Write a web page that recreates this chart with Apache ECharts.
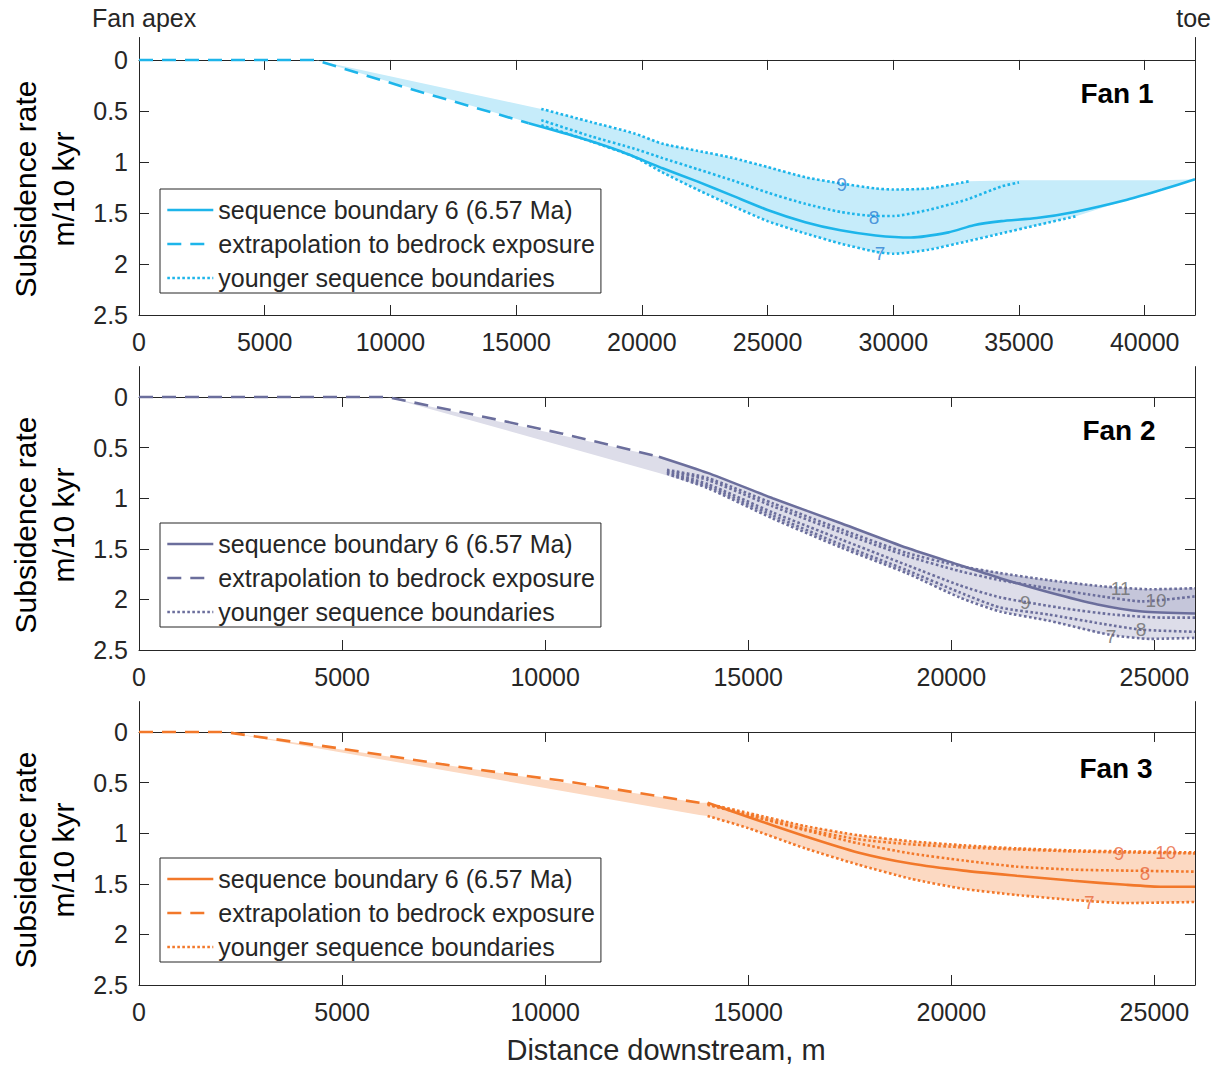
<!DOCTYPE html>
<html><head><meta charset="utf-8">
<script src="https://cdn.jsdelivr.net/npm/echarts@6/dist/echarts.min.js"></script>
<style>html,body{margin:0;padding:0;background:#fff}#c{width:1220px;height:1068px}</style>
</head><body><div id="c"></div>
<script>
// ---------------- DATA ----------------
const yTicks = [0, 0.5, 1, 1.5, 2, 2.5];
const fan1XTicks = [0, 5000, 10000, 15000, 20000, 25000, 30000, 35000, 40000];
const fan23XTicks = [0, 5000, 10000, 15000, 20000, 25000];
const legendText = {
  sb6: 'sequence boundary 6 (6.57 Ma)',
  extrap: 'extrapolation to bedrock exposure',
  young: 'younger sequence boundaries'
};

// Fan 1
const fan1Extrap = [[0,0],[7000,0],[10600,0.27],[15500,0.62]];
const fan1SB6 = [[15500,0.62],[17500,0.76],[19100,0.89],[20800,1.06],[22200,1.19],[23600,1.33],[25000,1.47],[26500,1.59],[27900,1.67],[29300,1.72],[30700,1.74],[32200,1.69],[33200,1.62],[34300,1.58],[35700,1.55],[37200,1.49],[39300,1.37],[40700,1.27],[42000,1.17]];
const fan1SB7 = [[16000,0.64],[18000,0.80],[19700,0.95],[20800,1.10],[22200,1.27],[23600,1.43],[25000,1.58],[26500,1.70],[27900,1.80],[29300,1.88],[30000,1.90],[31400,1.86],[32900,1.78],[34300,1.70],[35700,1.62],[37300,1.53]];
const fan1SB8 = [[16000,0.59],[18000,0.75],[19700,0.87],[20800,0.96],[22200,1.07],[23600,1.18],[25000,1.30],[26500,1.41],[27900,1.49],[29300,1.53],[30000,1.53],[31400,1.47],[32900,1.37],[34300,1.24],[35000,1.20]];
const fan1SB9 = [[16000,0.48],[18000,0.61],[19700,0.72],[20800,0.82],[22200,0.89],[23600,0.96],[25000,1.05],[26500,1.15],[27900,1.21],[29300,1.26],[30000,1.27],[31400,1.26],[33000,1.19]];
const fan1FillX = [7000,16000,18000,19700,20800,22200,23600,25000,26500,27900,29300,30000,31400,33000,35000,37300,39300,40700,42000];
const fan1FillTop = [0,0.48,0.61,0.72,0.82,0.89,0.96,1.05,1.15,1.21,1.26,1.27,1.26,1.19,1.18,1.18,1.18,1.18,1.17];
const fan1FillBottom = [0,0.65,0.80,0.95,1.10,1.27,1.43,1.58,1.70,1.80,1.88,1.90,1.86,1.77,1.66,1.53,1.37,1.27,1.17];
const fan1LabelX = [29470, 29230, 27950];
const fan1LabelY = [1.90, 1.54, 1.22];
const fan1LabelText = ['7', '8', '9'];

// Fan 2
const fan2Extrap = [[0,0],[6100,0],[8300,0.18],[10400,0.36],[12800,0.59]];
const fan2SB6 = [[12800,0.59],[14000,0.75],[15600,1.00],[17300,1.25],[18900,1.49],[20200,1.66],[21200,1.79],[22400,1.93],[23600,2.05],[24700,2.12],[26000,2.14]];
const fan2SB7 = [[13000,0.76],[14000,0.90],[15600,1.20],[17300,1.49],[18900,1.74],[20200,1.98],[21200,2.12],[22400,2.21],[23900,2.35],[24900,2.39],[26000,2.38]];
const fan2SB8 = [[13000,0.75],[14000,0.88],[15600,1.17],[17300,1.46],[18900,1.71],[20200,1.93],[21200,2.08],[22400,2.15],[23700,2.24],[24700,2.30],[26000,2.32]];
const fan2SB9 = [[13000,0.74],[14000,0.86],[15600,1.14],[17300,1.41],[18900,1.66],[20200,1.86],[21200,1.98],[22800,2.09],[24000,2.15],[25200,2.18],[26000,2.18]];
const fan2SB10 = [[13000,0.73],[14000,0.82],[15600,1.08],[17300,1.34],[18900,1.57],[20200,1.72],[21200,1.81],[22400,1.89],[23700,1.97],[24700,2.02],[26000,1.97]];
const fan2SB11 = [[13000,0.72],[14000,0.80],[15600,1.05],[17300,1.31],[18900,1.54],[20200,1.67],[21200,1.74],[22400,1.81],[23700,1.87],[24900,1.90],[26000,1.89]];
const fan2FillX = [6100,12800,14000,15600,17300,18900,20200,21200,22400,23700,24700,26000];
const fan2FillTop = [0,0.59,0.75,1.00,1.25,1.49,1.66,1.74,1.81,1.87,1.90,1.89];
const fan2FillBottom = [0,0.75,0.90,1.20,1.49,1.74,1.98,2.12,2.21,2.34,2.39,2.38];
const fan2BandX = [20200,21200,22400,23700,24700,26000];
const fan2BandTop = [1.66,1.74,1.81,1.87,1.90,1.89];
const fan2BandBottom = [1.66,1.79,1.93,2.05,2.12,2.14];
const fan2LabelX = [23930, 24670, 21820, 25040, 24170];
const fan2LabelY = [2.37, 2.30, 2.03, 2.01, 1.89];
const fan2LabelText = ['7', '8', '9', '10', '11'];

// Fan 3
const fan3Extrap = [[0,0],[2100,0],[4900,0.16],[8300,0.37],[10400,0.48],[13800,0.70]];
const fan3SB6 = [[14000,0.70],[15000,0.84],[16400,1.03],[17700,1.19],[19000,1.30],[20300,1.37],[21600,1.42],[23000,1.47],[24300,1.51],[25200,1.53],[26000,1.53]];
const fan3SB7 = [[14000,0.83],[15000,0.95],[16400,1.15],[17700,1.31],[19000,1.45],[20300,1.55],[21600,1.61],[23000,1.66],[24300,1.69],[26000,1.68]];
const fan3SB8 = [[14000,0.72],[15000,0.82],[16400,0.97],[17700,1.10],[19000,1.20],[20300,1.27],[21600,1.33],[23000,1.36],[24300,1.37],[26000,1.38]];
const fan3SB9 = [[14000,0.71],[15000,0.80],[16400,0.93],[17700,1.02],[19000,1.08],[20300,1.12],[21600,1.15],[23000,1.17],[24300,1.18],[26000,1.19]];
const fan3SB10 = [[14000,0.71],[15000,0.82],[16400,0.96],[17700,1.06],[19000,1.11],[20300,1.14],[21600,1.16],[23000,1.18],[24300,1.19],[26000,1.20]];
const fan3FillX = [2100,13800,14000,15000,16400,17700,19000,20300,21600,23000,24300,26000];
const fan3FillTop = [0,0.70,0.70,0.80,0.93,1.02,1.08,1.12,1.15,1.17,1.18,1.19];
const fan3FillBottom = [0,0.82,0.83,0.95,1.15,1.31,1.45,1.55,1.61,1.66,1.69,1.68];
const fan3LabelX = [23400, 24770, 24130, 25280];
const fan3LabelY = [1.68, 1.40, 1.20, 1.19];
const fan3LabelText = ['7', '8', '9', '10'];

// ---------------- STYLE ----------------
const AX = '#262626';
const FONT = '"Liberation Sans", Arial, Helvetica, sans-serif';

const panels = [
  { title: 'Fan 1', xMax: 42000, xTicks: fan1XTicks, yMin: -0.22, top: 37.5, bottom: 753,
    line: '#1db5ea', fill: '#c6ecfa', band: null, labelColor: '#2c7fd3',
    extrap: fan1Extrap, sb6: fan1SB6, young: [fan1SB7, fan1SB8, fan1SB9],
    fillX: fan1FillX, fillTop: fan1FillTop, fillBottom: fan1FillBottom,
    labelX: fan1LabelX, labelY: fan1LabelY, labelText: fan1LabelText,
    legendTop: 189, titlePos: [1117, 93], yLabelCy: 189 },
  { title: 'Fan 2', xMax: 26000, xTicks: fan23XTicks, yMin: -0.3, top: 366.6, bottom: 418,
    line: '#6b6e9c', fill: '#dddde9', band: '#c5c6da', labelColor: '#6a6a6a',
    extrap: fan2Extrap, sb6: fan2SB6, young: [fan2SB7, fan2SB8, fan2SB9, fan2SB10, fan2SB11],
    fillX: fan2FillX, fillTop: fan2FillTop, fillBottom: fan2FillBottom,
    bandX: fan2BandX, bandTop: fan2BandTop, bandBottom: fan2BandBottom,
    labelX: fan2LabelX, labelY: fan2LabelY, labelText: fan2LabelText,
    legendTop: 523, titlePos: [1119, 430], yLabelCy: 525 },
  { title: 'Fan 3', xMax: 26000, xTicks: fan23XTicks, yMin: -0.3, top: 701.6, bottom: 83,
    line: '#f2782a', fill: '#fcd9c2', band: null, labelColor: '#e8663a',
    extrap: fan3Extrap, sb6: fan3SB6, young: [fan3SB7, fan3SB8, fan3SB9, fan3SB10],
    fillX: fan3FillX, fillTop: fan3FillTop, fillBottom: fan3FillBottom,
    labelX: fan3LabelX, labelY: fan3LabelY, labelText: fan3LabelText,
    legendTop: 858, titlePos: [1116, 768], yLabelCy: 860 }
];

const option = { animation: false, backgroundColor: '#fff', textStyle: { fontFamily: FONT },
  grid: [], xAxis: [], yAxis: [], series: [], legend: [], graphic: { elements: [] } };

function bandSeries(xi, yi, X, T, B, color) {
  return { type: 'custom', xAxisIndex: xi, yAxisIndex: yi, silent: true, z: 1, clip: true,
    data: [[X[0], T[0]]],
    renderItem: (params, api) => {
      const pts = [];
      for (let i = 0; i < X.length; i++) pts.push(api.coord([X[i], T[i]]));
      for (let i = X.length - 1; i >= 0; i--) pts.push(api.coord([X[i], B[i]]));
      return { type: 'polygon', shape: { points: pts }, style: { fill: color, stroke: null } };
    } };
}

panels.forEach((P, p) => {
  const xi = 2 * p, yi = 2 * p;
  option.grid.push({ left: 139, right: 25, top: P.top, bottom: P.bottom, containLabel: false });
  option.xAxis.push({ type: 'value', gridIndex: p, position: 'bottom', min: 0, max: P.xMax,
    axisLine: { onZero: false, lineStyle: { color: AX, width: 1 } },
    axisTick: { inside: true, length: 10, customValues: P.xTicks, lineStyle: { color: AX } },
    axisLabel: { customValues: P.xTicks, fontSize: 25, color: AX, margin: 14, fontFamily: FONT, formatter: v => String(v) },
    splitLine: { show: false } });
  option.xAxis.push({ type: 'value', gridIndex: p, position: 'top', min: 0, max: P.xMax,
    axisLine: { onZero: true, onZeroAxisIndex: yi, lineStyle: { color: AX, width: 1 } },
    axisTick: { inside: true, length: 10, customValues: P.xTicks, lineStyle: { color: AX } },
    axisLabel: { show: false }, splitLine: { show: false } });
  option.yAxis.push({ type: 'value', gridIndex: p, position: 'left', inverse: true, min: P.yMin, max: 2.5,
    axisLine: { show: true, onZero: false, lineStyle: { color: AX, width: 1 } },
    axisTick: { show: true, inside: true, length: 10, customValues: yTicks, lineStyle: { color: AX } },
    axisLabel: { customValues: yTicks, fontSize: 25, color: AX, margin: 11, fontFamily: FONT, formatter: v => String(v) },
    splitLine: { show: false } });
  option.yAxis.push({ type: 'value', gridIndex: p, position: 'right', inverse: true, min: P.yMin, max: 2.5,
    axisLine: { show: true, onZero: false, lineStyle: { color: AX, width: 1 } },
    axisTick: { show: true, inside: true, length: 10, customValues: yTicks, lineStyle: { color: AX } },
    axisLabel: { show: false }, splitLine: { show: false } });

  // shaded envelopes
  option.series.push(bandSeries(xi, yi, P.fillX, P.fillTop, P.fillBottom, P.fill));
  if (P.band) option.series.push(bandSeries(xi, yi, P.bandX, P.bandTop, P.bandBottom, P.band));

  const common = { type: 'line', xAxisIndex: xi, yAxisIndex: yi, symbol: 'none', silent: true,
    itemStyle: { color: P.line } };
  P.young.forEach(arr => {
    option.series.push(Object.assign({}, common, { name: 'young#' + p, smooth: 0.2, z: 3,
      lineStyle: { color: P.line, width: 2.6, type: [2.6, 2.4] }, data: arr }));
  });
  option.series.push(Object.assign({}, common, { name: 'extrap#' + p, z: 4,
    lineStyle: { color: P.line, width: 2.6, type: [14, 9] }, data: P.extrap }));
  option.series.push(Object.assign({}, common, { name: 'sb6#' + p, smooth: 0.2, z: 5,
    lineStyle: { color: P.line, width: 2.6 }, data: P.sb6 }));
  option.series.push({ type: 'scatter', xAxisIndex: xi, yAxisIndex: yi, symbolSize: 0, silent: true, z: 6,
    data: P.labelX.map((x, i) => ({ value: [x, P.labelY[i]], name: P.labelText[i] })),
    label: { show: true, position: 'inside', formatter: '{b}', color: P.labelColor, fontSize: 19, fontFamily: FONT } });

  option.legend.push({ left: 160, top: P.legendTop, orient: 'vertical', selectedMode: false,
    data: ['sb6#' + p, 'extrap#' + p, 'young#' + p],
    formatter: n => legendText[n.split('#')[0]],
    itemWidth: 46, itemHeight: 14, itemGap: 6,
    padding: [7, 6, 1, 6], borderColor: AX, borderWidth: 1, backgroundColor: '#fff',
    textStyle: { fontSize: 25, color: AX, fontFamily: FONT, lineHeight: 28 },
    itemStyle: { opacity: 0 },
    lineStyle: { width: 2.6 } });

  const E = option.graphic.elements;
  E.push({ type: 'text', x: P.titlePos[0], y: P.titlePos[1], z: 10,
    style: { text: P.title, fontSize: 28, fontWeight: 'bold', fontFamily: FONT, fill: '#000', align: 'center', verticalAlign: 'middle' } });
  E.push({ type: 'text', x: 25, y: P.yLabelCy, rotation: Math.PI / 2, z: 10,
    style: { text: 'Subsidence rate', fontSize: 30, fontFamily: FONT, fill: '#000', align: 'center', verticalAlign: 'middle' } });
  E.push({ type: 'text', x: 63, y: P.yLabelCy, rotation: Math.PI / 2, z: 10,
    style: { text: 'm/10 kyr', fontSize: 30, fontFamily: FONT, fill: '#000', align: 'center', verticalAlign: 'middle' } });
});

option.graphic.elements.push(
  { type: 'text', x: 92, y: 18, style: { text: 'Fan apex', fontSize: 25, fontFamily: FONT, fill: AX, align: 'left', verticalAlign: 'middle' } },
  { type: 'text', x: 1211, y: 18, style: { text: 'toe', fontSize: 25, fontFamily: FONT, fill: AX, align: 'right', verticalAlign: 'middle' } },
  { type: 'text', x: 666, y: 1050, style: { text: 'Distance downstream, m', fontSize: 29, fontFamily: FONT, fill: AX, align: 'center', verticalAlign: 'middle' } }
);

const chart = echarts.init(document.getElementById('c'), null, { renderer: 'svg', width: 1220, height: 1068 });
chart.setOption(option);
</script></body></html>
